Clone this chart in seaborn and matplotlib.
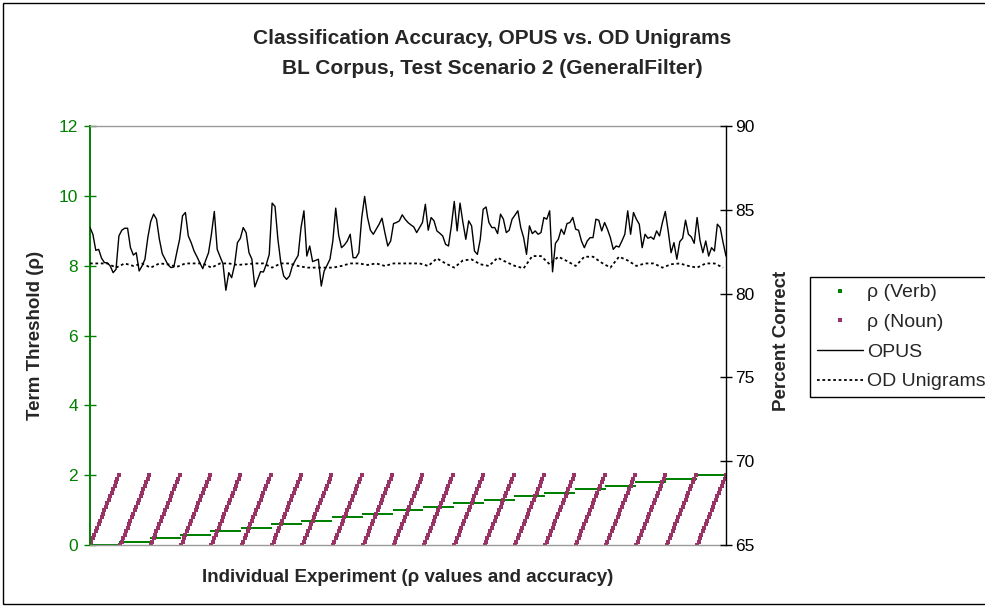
import matplotlib
matplotlib.use("Agg")
import matplotlib.pyplot as plt
from matplotlib.lines import Line2D
from matplotlib.patches import Rectangle
import seaborn as sns
import pandas as pd
import numpy as np

# ===================== DATOS =====================

# niveles de rho usados para verbos y sustantivos
rho_levels = [0.0, 0.1, 0.2, 0.3, 0.4, 0.5, 0.6, 0.7, 0.8, 0.9, 1.0,
              1.1, 1.2, 1.3, 1.4, 1.5, 1.6, 1.7, 1.8, 1.9, 2.0]

# OPUS: % correcto leido cada 2 experimentos
opus_step = 2
opus_pct = [
    83.94, 83.54, 82.58, 82.64, 82.11, 81.85, 81.83, 81.65, 81.25, 81.45,
    83.44, 83.78, 83.90, 83.90, 82.74, 82.30, 82.44, 81.35, 81.65, 82.05,
    83.34, 84.30, 84.74, 84.44, 83.24, 82.38, 82.05, 81.71, 81.55, 81.59,
    82.44, 83.24, 84.64, 84.84, 83.44, 83.04, 82.54,
    82.20, 81.83, 81.49, 81.98, 82.44, 83.54, 84.90, 82.64, 82.20, 81.78,
    80.20, 81.25, 80.95, 81.71, 83.04, 83.30, 83.94, 83.64, 82.44, 82.05,
    80.40, 80.85, 81.31, 81.29, 81.75, 82.34, 85.40, 85.20, 83.24, 81.85,
    81.05, 80.85, 81.05, 81.65, 81.98, 82.28, 83.94,
    84.94, 82.24, 82.84, 81.91, 81.98, 82.05, 80.45, 81.35, 81.69, 82.05,
    83.14, 85.10, 83.50, 82.74, 82.90, 83.14, 83.54, 82.14, 82.14, 82.44,
    84.54, 85.80, 84.54, 83.78, 83.54, 83.84, 84.14, 84.50, 83.64, 82.84,
    83.14, 84.18, 84.24, 84.34, 84.70, 84.44,
    84.24, 84.10, 83.98, 83.64, 83.94, 84.24, 85.33, 83.78, 84.54, 84.34,
    83.74, 83.60, 83.44, 82.94, 82.84, 84.04, 85.50, 83.74, 85.40, 84.24,
    83.24, 84.34, 84.04, 82.54, 82.34, 83.24, 85.03, 85.17, 84.24, 83.94,
    83.94, 83.58, 84.74, 84.44, 83.64, 83.78, 84.44,
    84.68, 84.94, 83.94, 83.34, 82.34, 84.04, 83.58, 83.74, 83.54, 83.64,
    84.54, 84.44, 84.94, 81.30, 83.00, 83.24, 83.84, 83.54, 84.18, 84.24,
    84.54, 83.84, 83.78, 83.14, 82.74, 83.14, 83.34, 83.34, 84.44, 84.38,
    83.74, 84.24, 83.84, 83.34, 82.64, 82.84,
    82.78, 83.14, 83.54, 84.94, 83.54, 84.84, 84.44, 84.14, 82.74, 83.54,
    83.30, 83.38, 83.24, 83.74, 83.44, 84.24, 84.90, 83.74, 82.44, 83.04,
    82.05, 83.10, 83.30, 84.38, 83.54, 83.38, 83.00, 84.54, 83.18, 82.44,
    83.14, 82.24, 82.74, 82.54, 84.14, 83.94, 83.04, 82.24,
]

# OD Unigrams: % correcto leido cada 6 experimentos
od_step = 6
od_pct = [
    81.80, 81.80, 81.80, 81.55, 81.80, 81.65, 81.79, 81.55, 81.80, 81.75,
    81.59, 81.80, 81.80,
    81.80, 81.55, 81.80, 81.80, 81.71, 81.75, 81.80, 81.80, 81.55, 81.80,
    81.80, 81.65,
    81.55, 81.55, 81.55, 81.55, 81.65, 81.80, 81.80, 81.71, 81.80, 81.65,
    81.80, 81.80,
    81.80, 81.80, 81.65, 82.10, 81.80, 81.55, 81.98, 82.04, 81.75, 81.65,
    82.14, 81.88,
    81.65, 81.51, 82.24, 82.24, 81.75, 82.20, 81.94, 81.65, 82.20, 82.20,
    81.84, 81.55,
    82.20, 81.98, 81.65, 81.80, 81.80, 81.55, 81.75, 81.80, 81.65, 81.55,
    81.80, 81.80, 81.55,
]

GREEN = "#008000"
PLUM = "#993366"
GREY = "#9a9a9a"

# ===================== TABLAS =====================

grid = pd.DataFrame({
    "verb": np.repeat(rho_levels, len(rho_levels)),
    "noun": np.tile(rho_levels, len(rho_levels)),
})
grid["experiment"] = np.arange(len(grid))

opus_df = pd.DataFrame({
    "experiment": np.arange(len(opus_pct)) * opus_step,
    "pct": opus_pct,
})
od_df = pd.DataFrame({
    "experiment": np.arange(len(od_pct)) * od_step,
    "pct": od_pct,
})

# ===================== FIGURA =====================

sns.set_style("white")
plt.rcParams["font.family"] = ["Liberation Sans", "DejaVu Sans"]

W, H = 985, 607
fig = plt.figure(figsize=(W / 100, H / 100), dpi=100)

x0, x1, y0, y1 = 90, 726, 126, 545
ax = fig.add_axes([x0 / W, 1 - y1 / H, (x1 - x0) / W, (y1 - y0) / H])
ax2 = ax.twinx()

sns.scatterplot(data=grid, x="experiment", y="verb", ax=ax, color=GREEN,
                marker="s", s=4.5, linewidth=0, legend=False)
sns.scatterplot(data=grid, x="experiment", y="noun", ax=ax, color=PLUM,
                marker="s", s=6, linewidth=0, legend=False)

sns.lineplot(data=opus_df, x="experiment", y="pct", ax=ax2, color="black",
             linewidth=1.0, legend=False)
sns.lineplot(data=od_df, x="experiment", y="pct", ax=ax2, color="black",
             linewidth=1.3, linestyle=(0, (1.5, 1.5)), legend=False)

ax.set_xlim(0, len(grid) - 1)
ax.set_ylim(0, 12)
ax.set_yticks(range(0, 13, 2))
ax.set_xticks([])
ax2.set_ylim(65, 90)
ax2.set_yticks(range(65, 91, 5))

# ejes
for sp in ("top", "bottom"):
    ax.spines[sp].set_color(GREY)
    ax.spines[sp].set_linewidth(1.0)
ax.spines["left"].set_color(GREEN)
ax.spines["left"].set_linewidth(1.4)
ax.spines["right"].set_visible(False)
for sp in ("left", "top", "bottom"):
    ax2.spines[sp].set_visible(False)
ax2.spines["right"].set_color("black")
ax2.spines["right"].set_linewidth(1.0)

ax.tick_params(axis="y", colors=GREEN, labelsize=12.5, direction="inout",
               length=9, width=1.0, pad=4, left=True)
ax2.tick_params(axis="y", colors="black", labelsize=12.5, direction="inout",
                length=9, width=1.0, pad=2, right=True)

ax.set_xlabel("Individual Experiment (ρ values and accuracy)",
              fontsize=13.5, fontweight="bold")
ax.set_ylabel("Term Threshold (ρ)", fontsize=13.5, fontweight="bold")
ax2.set_ylabel("Percent Correct", fontsize=13.5, fontweight="bold")
ax.xaxis.set_label_coords(0.5, (y1 - 569) / (y1 - y0))
ax.yaxis.set_label_coords((44 - x0) / (x1 - x0), 0.5)
ax2.yaxis.set_label_coords((773 - x0) / (x1 - x0), (y1 - 341) / (y1 - y0))

fig.text(492 / W, 1 - 38 / H, "Classification Accuracy, OPUS vs. OD Unigrams",
         ha="center", va="center", fontsize=15, fontweight="bold")
fig.text(492 / W, 1 - 68 / H, "BL Corpus, Test Scenario 2 (GeneralFilter)",
         ha="center", va="center", fontsize=15, fontweight="bold")

# leyenda
handles = [
    Line2D([], [], linestyle="none", marker="s", markersize=2.4,
           color=GREEN, markeredgewidth=0),
    Line2D([], [], linestyle="none", marker="s", markersize=2.4,
           color=PLUM, markeredgewidth=0),
    Line2D([], [], color="black", linewidth=1.0),
    Line2D([], [], color="black", linewidth=1.3, linestyle=(0, (1.5, 1.5))),
]
labels = ["ρ (Verb)", "ρ (Noun)", "OPUS", "OD Unigrams"]
leg = fig.legend(handles, labels, loc="upper left",
                 bbox_to_anchor=(810 / W, 1 - 277 / H),
                 bbox_transform=fig.transFigure, fontsize=14,
                 frameon=True, fancybox=False, framealpha=1,
                 edgecolor="black", borderpad=0.35, labelspacing=0.62,
                 handlelength=2.4, handletextpad=0.2, borderaxespad=0)
leg.get_frame().set_linewidth(1.0)

# borde del grafico (el lado derecho queda fuera de la imagen)
fig.patches.append(Rectangle((3 / W, 3 / H), 1.05, 601 / H,
                             transform=fig.transFigure, fill=False,
                             edgecolor="black", linewidth=1.0))

fig.savefig("out.png", dpi=100)
plt.close("all")
